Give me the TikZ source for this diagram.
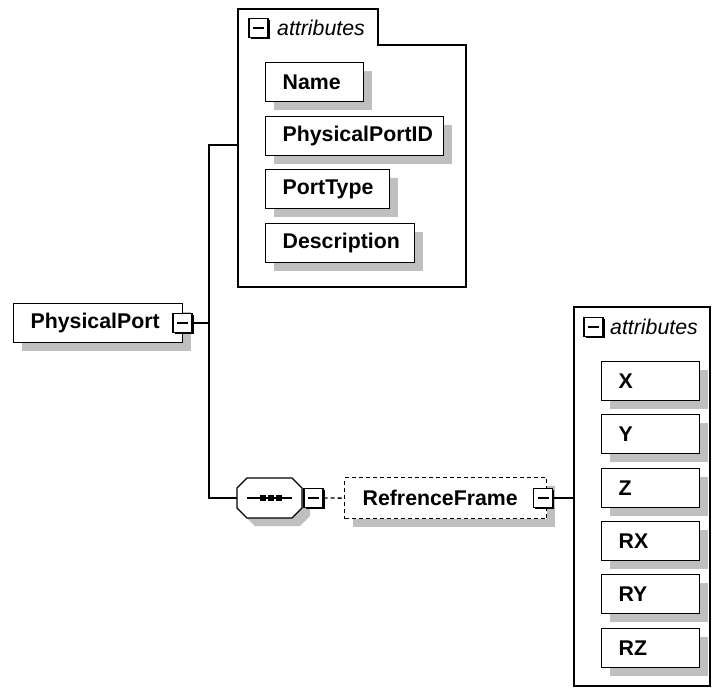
\documentclass[tikz,border=0pt]{standalone}
\usepackage{fontspec}
\setmainfont{Liberation Sans}
\usetikzlibrary{shadows}

\tikzset{
  boxshadow/.style={drop shadow={shadow xshift=8pt, shadow yshift=-8pt, fill=black!25, opacity=1}},
  field/.style={draw, fill=white, line width=1.3pt, anchor=north west, minimum height=39pt,
    inner xsep=17pt, inner ysep=0pt, text width=#1, align=left,
    font=\fontsize{21.3}{25}\selectfont\bfseries, boxshadow},
  minus/.style={draw, fill=white, line width=1.4pt, minimum size=19pt, inner sep=0pt,
    drop shadow={shadow xshift=1.8pt, shadow yshift=-1.8pt, fill=black, opacity=1},
    path picture={\draw[line width=1.4pt] ([xshift=4pt]path picture bounding box.west) -- ([xshift=-4pt]path picture bounding box.east);}},
  attrtitle/.style={anchor=west, inner sep=0pt, font=\fontsize{21.3}{25}\selectfont\itshape},
  wire/.style={line width=1.3pt}
}

\begin{document}
\begin{tikzpicture}[x=1pt, y=-1pt, line join=miter]
	\useasboundingbox (0,0) rectangle (712,688);
	\def\octagon{(247,478) -- (292,478) -- (302,488) -- (302,508) -- (292,518) -- (247,518) -- (237,508) -- (237,488) -- cycle}
	% root element
	\node[field=135pt] (port) at (13,303) {PhysicalPort};
	\node[minus] (portm) at (182.5,323) {};
	% first attribute group
	\draw[wire] (238,287) -- (238,9) -- (378,9) -- (378,45) -- (466,45) -- (466,287) -- cycle;
	\coordinate (attA) at (238,145);
	\node[minus] (attAm) at (258.5,28) {};
	\node[attrtitle] (attAt) at (277,28) {attributes};
	\node[field=64pt] (name) at (265,62) {Name};
	\node[field=144pt] (ppid) at (265,116) {PhysicalPortID};
	\node[field=90pt] (ptype) at (265,169) {PortType};
	\node[field=115pt] (descr) at (265,223) {Description};
	% sequence and optional child
	\fill[black!25, shift={(8,8)}] \octagon;
	\draw[wire, fill=white] \octagon;
	\node[minimum width=65pt, minimum height=40pt, inner sep=0pt] (seq) at (269.5,498) {};
	\draw[line width=1.5pt] ([xshift=10pt]seq.west) -- ([xshift=-10pt]seq.east);
	\foreach \x in {263,271,279} \fill (\x-3,495) rectangle (\x+3,501);
	\node[minus] (seqm) at (313.5,498) {};
	\node[field=166pt, dash pattern=on 4pt off 3pt, minimum height=41pt, inner xsep=18pt] (frame) at (344,477) {RefrenceFrame};
	\node[minus] (framem) at (543,498) {};
	% second attribute group
	\draw[wire] (574,307) rectangle (710,686);
	\coordinate (attB) at (574,498);
	\node[minus] (attBm) at (593.5,327) {};
	\node[attrtitle] (attBt) at (610,327) {attributes};
	\foreach \t/\y in {X/361,Y/414,Z/468,RX/521,RY/574,RZ/628}
		\node[field=64pt] (\t) at (601,\y) {\t};
	% connectors
	\coordinate (fork) at (209,323);
	\draw[wire] (portm.east) -- (fork);
	\draw[wire] (attA) -| (fork) |- (seq.west);
	\draw[wire, dash pattern=on 4pt off 3pt] (seqm.east) -- (frame.west);
	\draw[wire] (framem.east) -- (attB);
\end{tikzpicture}
\end{document}
